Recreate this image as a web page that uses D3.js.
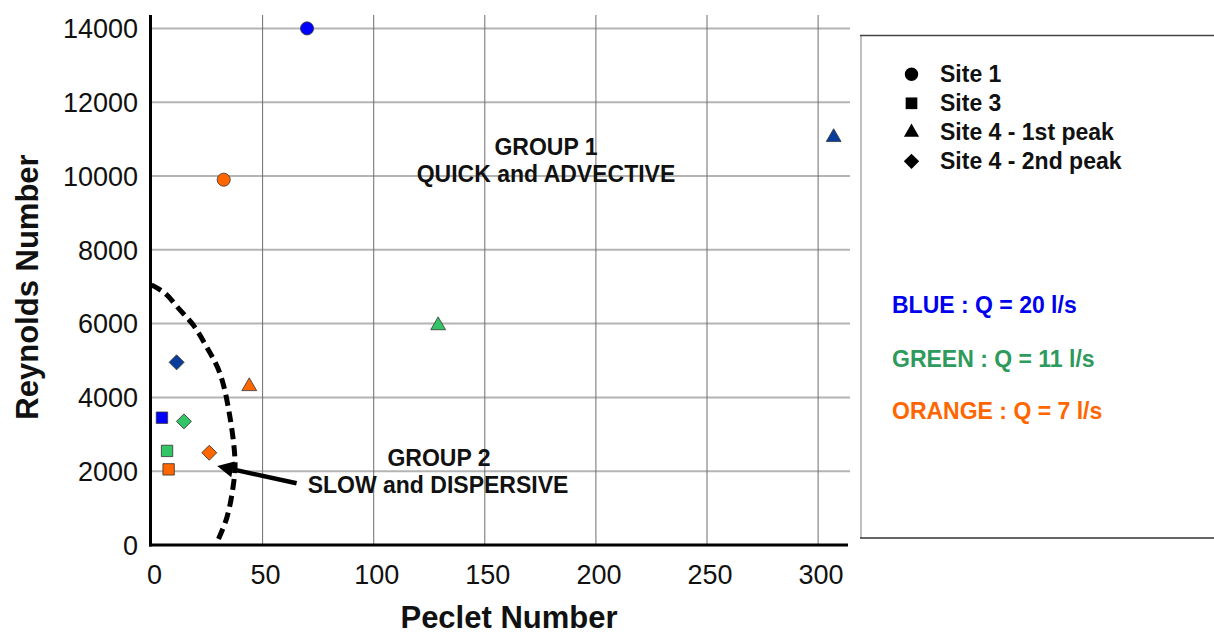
<!DOCTYPE html>
<html>
<head>
<meta charset="utf-8">
<script src="https://cdn.jsdelivr.net/npm/d3@7"></script>
<style>
  html, body { margin: 0; padding: 0; background: #fff; }
  svg { display: block; font-family: "Liberation Sans", Arial, sans-serif; }
  .tick-label { font-size: 27px; fill: #111; }
  .axis-title { font-size: 31px; font-weight: bold; fill: #111; }
  .note { font-size: 23px; font-weight: bold; fill: #111; }
</style>
</head>
<body>
<svg id="chart" width="1214" height="636"></svg>
<script>
// ---- data ----
const SITES = ['Site 1', 'Site 3', 'Site 4 - 1st peak', 'Site 4 - 2nd peak'];
const X_TICKS = [0, 50, 100, 150, 200, 250, 300];
const Y_TICKS = [0, 2000, 4000, 6000, 8000, 10000, 12000, 14000];

// one value per site, null = no measurement
const BLUE_PE = [70, 4.7, 307, 11.3];
const BLUE_RE = [14000, 3450, 11050, 4950];
const GREEN_PE = [null, 7, 129, 14.6];
const GREEN_RE = [null, 2550, 5950, 3350];
const ORANGE_PE = [32.5, 7.7, 44, 26];
const ORANGE_RE = [9900, 2050, 4300, 2500];

const FLOW_LABELS = ['BLUE : Q = 20 l/s', 'GREEN : Q = 11 l/s', 'ORANGE : Q = 7 l/s'];

// hand-drawn boundary between the two groups (Pe, Re)
const BOUNDARY_PE = [0, 6.1, 12.8, 18.8, 24.8, 30.8, 35.3, 37.6, 36.7, 34, 29.5, 29.2];
const BOUNDARY_RE = [7050, 6820, 6370, 5960, 5370, 4650, 3470, 2220, 1570, 760, 60, 0];
// arrow pointing at the boundary (tail -> tip)
const ARROW_PE = [65.3, 29.6];
const ARROW_RE = [1672, 2141];

(function () {
  const svg = d3.select('#chart');
  // diamond = square turned by 45 degrees
  const SHAPES = [d3.symbolCircle, d3.symbolSquare, d3.symbolTriangle, d3.symbolSquare];
  const ROT = [0, 0, 0, 45];
  const SIZES = [135, 130, 95, 112];
  const FLOW_COLOR = ['#0000ff', '#33c466', '#ff6600'];
  const FLOW_TEXT = ['#0000ee', '#2e9a5c', '#ff6600'];
  const BLUE_SHADE = ['#0000ff', '#0000ff', '#0a3c9c', '#0a3c9c'];

  const x = d3.scaleLinear().domain([0, 313]).range([151.5, 847]);
  const y = d3.scaleLinear().domain([0, 14380]).range([545, 14.4]);

  svg.append('rect').attr('width', 1214).attr('height', 636).attr('fill', '#fff');

  // grid
  const grid = svg.append('g');
  Y_TICKS.filter(v => v > 0).forEach(v => {
    grid.append('line').attr('x1', 150).attr('x2', 850).attr('y1', y(v)).attr('y2', y(v))
      .attr('stroke', '#b4b4b4').attr('stroke-width', 2);
  });
  X_TICKS.filter(v => v > 0).forEach(v => {
    grid.append('line').attr('x1', x(v)).attr('x2', x(v)).attr('y1', 15).attr('y2', 545)
      .attr('stroke', '#6e6e6e').attr('stroke-width', 1);
  });

  // axes lines
  svg.append('line').attr('x1', 150.5).attr('x2', 150.5).attr('y1', 15).attr('y2', 546.5)
    .attr('stroke', '#000').attr('stroke-width', 3);
  svg.append('line').attr('x1', 149).attr('x2', 848).attr('y1', 545).attr('y2', 545)
    .attr('stroke', '#000').attr('stroke-width', 3);

  // tick labels
  svg.append('g').selectAll('text').data(Y_TICKS).enter().append('text')
    .attr('class', 'tick-label').attr('x', 138).attr('y', d => y(d)).attr('dy', '0.36em')
    .attr('text-anchor', 'end').text(d => d);
  svg.append('g').selectAll('text').data(X_TICKS).enter().append('text')
    .attr('class', 'tick-label').attr('x', d => x(d) + 3).attr('y', 584)
    .attr('text-anchor', 'middle').text(d => d);

  svg.append('text').attr('class', 'axis-title').attr('text-anchor', 'middle')
    .attr('transform', 'translate(38,287) rotate(-90)').text('Reynolds Number');
  svg.append('text').attr('class', 'axis-title').attr('text-anchor', 'middle')
    .attr('x', 509).attr('y', 628).text('Peclet Number');

  // boundary curve
  const bpts = BOUNDARY_PE.map((p, i) => [x(p), y(BOUNDARY_RE[i])]);
  svg.append('path').attr('d', d3.line().curve(d3.curveCatmullRom)(bpts))
    .attr('fill', 'none').attr('stroke', '#000').attr('stroke-width', 5)
    .attr('stroke-dasharray', '11,6');

  // arrow
  const ax0 = x(ARROW_PE[0]), ay0 = y(ARROW_RE[0]), ax1 = x(ARROW_PE[1]), ay1 = y(ARROW_RE[1]);
  const ang = Math.atan2(ay1 - ay0, ax1 - ax0);
  const hl = 16, hw = 8;
  const bx = ax1 - hl * Math.cos(ang), by = ay1 - hl * Math.sin(ang);
  svg.append('line').attr('x1', ax0).attr('y1', ay0).attr('x2', bx).attr('y2', by)
    .attr('stroke', '#000').attr('stroke-width', 4.5);
  svg.append('path').attr('fill', '#000').attr('d',
    `M${ax1},${ay1} L${bx + hw * Math.sin(ang)},${by - hw * Math.cos(ang)} L${bx - hw * Math.sin(ang)},${by + hw * Math.cos(ang)} Z`);

  // points
  const series = [[BLUE_PE, BLUE_RE], [GREEN_PE, GREEN_RE], [ORANGE_PE, ORANGE_RE]];
  const pts = [];
  series.forEach(([pe, re], f) => pe.forEach((p, s) => {
    if (p != null) pts.push({ pe: p, re: re[s], site: s, flow: f });
  }));
  svg.append('g').selectAll('path').data(pts).enter().append('path')
    .attr('d', d => d3.symbol().type(SHAPES[d.site]).size(SIZES[d.site])())
    .attr('transform', d => `translate(${x(d.pe)},${y(d.re)}) rotate(${ROT[d.site]})`)
    .attr('fill', d => d.flow === 0 ? BLUE_SHADE[d.site] : FLOW_COLOR[d.flow])
    .attr('stroke', '#333').attr('stroke-width', 0.8);

  // group annotations
  [['GROUP 1', 546, 155], ['QUICK and ADVECTIVE', 546, 182],
   ['GROUP 2', 439, 466], ['SLOW and DISPERSIVE', 438, 493]].forEach(([t, tx, ty]) => {
    svg.append('text').attr('class', 'note').attr('x', tx).attr('y', ty)
      .attr('text-anchor', 'middle').text(t);
  });

  // legend box
  const lg = svg.append('g');
  lg.append('rect').attr('x', 861).attr('y', 35.5).attr('width', 360).attr('height', 502.5).attr('fill', '#fff');
  lg.append('line').attr('x1', 861).attr('x2', 861).attr('y1', 35).attr('y2', 538)
    .attr('stroke', '#c0c0c0').attr('stroke-width', 2);
  lg.append('line').attr('x1', 860).attr('x2', 1214).attr('y1', 35.5).attr('y2', 35.5)
    .attr('stroke', '#444').attr('stroke-width', 1.5);
  lg.append('line').attr('x1', 860).attr('x2', 1214).attr('y1', 538).attr('y2', 538)
    .attr('stroke', '#333').attr('stroke-width', 1.5);

  SITES.forEach((s, i) => {
    const cy = 74.3 + i * 29;
    lg.append('path').attr('d', d3.symbol().type(SHAPES[i]).size(SIZES[i] * 1.05)())
      .attr('transform', `translate(911.5,${cy}) rotate(${ROT[i]})`).attr('fill', '#000');
    lg.append('text').attr('class', 'note').attr('x', 940).attr('y', cy + 7.5).text(s);
  });

  const flowY = [313, 366.5, 418.5];
  FLOW_LABELS.forEach((t, i) => {
    lg.append('text').attr('class', 'note').attr('x', 892).attr('y', flowY[i])
      .style('fill', FLOW_TEXT[i]).text(t);
  });
})();
</script>
</body>
</html>
